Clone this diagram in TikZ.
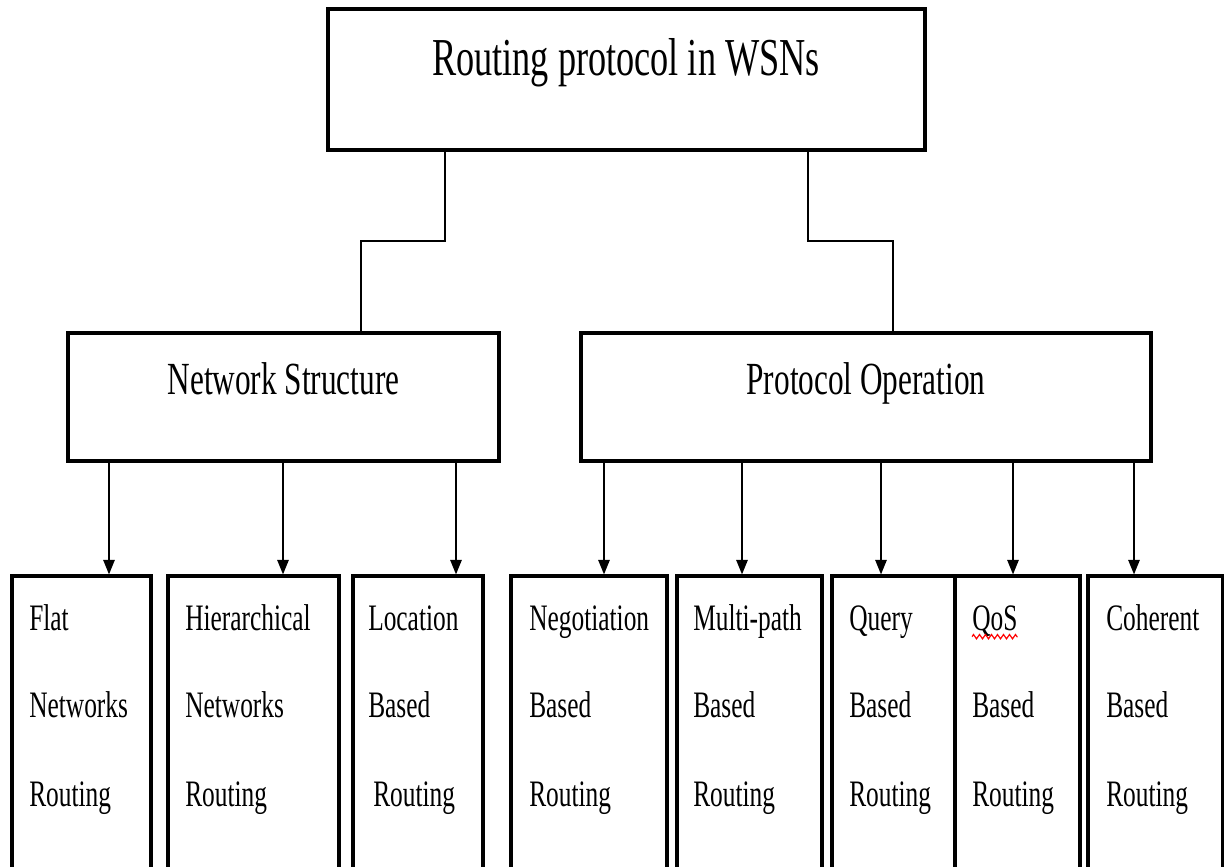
\documentclass[tikz,border=0pt]{standalone}
\usepackage{fontspec}
\setmainfont{Liberation Serif}[FakeStretch=0.68]
\usetikzlibrary{arrows.meta,fit,decorations.pathmorphing}

\tikzset{
  box/.style={draw=black, line width=2.3pt, inner sep=0pt, rectangle},
  leaf/.style={draw=black, line width=2.3pt, inner sep=0pt, rectangle},
  conn/.style={draw=black, line width=2pt},
  arr/.style={draw=black, line width=1.5pt, -{Triangle[width=8.5pt,length=11pt]}},
  titletext/.style={inner sep=0pt, anchor=base, font=\fontsize{40}{48}\selectfont},
  midtext/.style={inner sep=0pt, anchor=base, font=\fontsize{34.5}{40}\selectfont},
  leaftext/.style={inner sep=0pt, anchor=base west, font=\fontsize{28}{32}\selectfont},
}

\begin{document}
\begin{tikzpicture}[x=0.75pt, y=-0.75pt]
  \useasboundingbox (0,0) rectangle (1224,867);
  \clip (0,0) rectangle (1224,867);

  % root and the two classification boxes
  \node[box, fit={(328,9) (925,150)}] (root) {};
  \node[titletext] (roottxt) at (626,76) {Routing protocol in WSNs};

  \node[box, fit={(68,333) (499,461)}] (ns) {};
  \node[midtext] (nstxt) at (283.5,394) {Network Structure};

  \node[box, fit={(581,333) (1151,461)}] (po) {};
  \node[midtext] (potxt) at (866,394) {Protocol Operation};

  % elbow connectors from the root
  \coordinate (ka) at (445,241);
  \coordinate (kb) at (361,241);
  \coordinate (kc) at (808,241);
  \coordinate (kd) at (893,241);
  \draw[conn] (root.south -| ka) -- (ka) -- (kb) -- (ns.north -| kb);
  \draw[conn] (root.south -| kc) -- (kc) -- (kd) -- (po.north -| kd);

  % leaf boxes (running past the lower edge)
  \node[leaf, fit={(12,576) (151,900)}]   (flat) {};
  \node[leaf, fit={(168,576) (339,900)}]  (hier) {};
  \node[leaf, fit={(353,576) (483,900)}]  (loc) {};
  \node[leaf, fit={(511,576) (667,900)}]  (neg) {};
  \node[leaf, fit={(677,576) (822,900)}]  (mp) {};
  \node[leaf, fit={(832,576) (955,900)}]  (query) {};
  \node[leaf, fit={(955,576) (1080,900)}] (qos) {};
  \node[leaf, fit={(1088,576) (1223,900)}] (coh) {};

  % leaf labels: three lines each
  \foreach \bx/\xa/\xc/\la/\lb/\lc in {
      flat/29/29/Flat/Networks/Routing,
      hier/185/185/Hierarchical/Networks/Routing,
      loc/368/373/Location/Based/Routing,
      neg/529/529/Negotiation/Based/Routing,
      mp/693/693/Multi-path/Based/Routing,
      query/849/849/Query/Based/Routing,
      qos/972/972/QoS/Based/Routing,
      coh/1106/1106/Coherent/Based/Routing}{
    \node[leaftext] (\bx-1) at (\xa,630) {\la};
    \node[leaftext] (\bx-2) at (\xa,717) {\lb};
    \node[leaftext] (\bx-3) at (\xc,806) {\lc};
  }

  % spelling mark under QoS
  \draw[red, line width=0.9pt, decorate,
        decoration={zigzag, segment length=4.5pt, amplitude=1.6pt}]
    ([yshift=-5pt]qos-1.base west) -- ([yshift=-5pt]qos-1.base east);

  % arrows down to the leaves
  \foreach \src/\dst/\xx in {ns/flat/109, ns/hier/283, ns/loc/456,
                             po/neg/604, po/mp/742, po/query/881,
                             po/qos/1013, po/coh/1134}{
    \coordinate (x-\dst) at (\xx,0);
    \draw[arr] (\src.south -| x-\dst) -- (\dst.north -| x-\dst);
  }
\end{tikzpicture}
\end{document}
